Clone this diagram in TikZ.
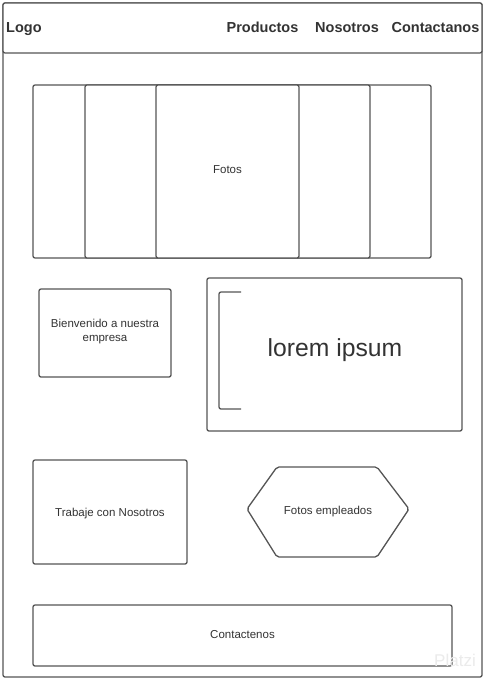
\documentclass[tikz,border=0pt]{standalone}
\usepackage{fontspec}
\setmainfont{Liberation Sans}
\definecolor{edge}{HTML}{555555}
\definecolor{ink}{HTML}{333333}
\begin{document}
\begin{tikzpicture}[x=1pt,y=-1pt,
  box/.style={draw=edge,line width=1.3pt,rounded corners=2pt,fill=white,inner sep=0pt,outer sep=0pt,text=ink,align=center},
  small/.style={font=\fontsize{11.5}{14.5}\selectfont},
  head/.style={font=\bfseries\fontsize{14.5}{17}\selectfont,text=ink,inner sep=0pt}]
\useasboundingbox (0,0) rectangle (485,680);
\node[box,minimum width=479,minimum height=674] (frame) at (242.5,340) {};
\node[box,minimum width=479,minimum height=50] (header) at (242.5,28) {};
\node[head,anchor=base west] (logo) at (6,32) {Logo};
\node[head,anchor=base] (prod) at (262.5,32) {Productos};
\node[head,anchor=base] (nos) at (347,32) {Nosotros};
\node[head,anchor=base] (cont) at (435.5,32) {Contactanos};
% photo carousel
\node[box,minimum width=398,minimum height=173] (f1) at (232,171.5) {};
\node[box,minimum width=285,minimum height=173] (f2) at (227.5,171.5) {};
\node[box,small,minimum width=143,minimum height=173] (fotos) at (227.5,171.5) {};
\node[small,text=ink] (fotostxt) at (227.5,170) {Fotos};
% welcome
\node[box,minimum width=132,minimum height=88] (bien) at (105,333) {};
\node[small,text=ink,align=center] (bientxt) at (105,331.5) {Bienvenido a nuestra\\empresa};
% lorem
\node[box,minimum width=255,minimum height=153] (lorem) at (334.5,354.5) {};
\node[font=\fontsize{24.7}{28}\selectfont,text=ink] (loremtxt) at (335,350) {lorem ipsum};
\coordinate (b1) at (241,292);
\coordinate (b2) at (219,292);
\coordinate (b3) at (219,409);
\coordinate (b4) at (241,409);
\draw[edge,line width=1.3pt,rounded corners=2pt] (b1) -- (b2) -- (b3) -- (b4);
% trabaje
\node[box,minimum width=154,minimum height=104] (trab) at (110,512) {};
\node[small,text=ink] (trabtxt) at (110,513.5) {Trabaje con Nosotros};
% hexagon
\coordinate (h1) at (247,509);
\coordinate (h2) at (277,467);
\coordinate (h3) at (377,467);
\coordinate (h4) at (409,509);
\coordinate (h5) at (377,557);
\coordinate (h6) at (277,557);
\draw[edge,line width=1.3pt,rounded corners=2pt,fill=white] (h1) -- (h2) -- (h3) -- (h4) -- (h5) -- (h6) -- cycle;
\node[small,text=ink] (hextxt) at (328,511.5) {Fotos empleados};
% contactenos
\node[box,minimum width=419,minimum height=61] (contac) at (242.5,635.5) {};
\node[small,text=ink] (contactxt) at (242.5,635) {Contactenos};
% watermark
\node[font=\fontsize{17}{20}\selectfont,text=black!8] (wm) at (455,660) {Platzi};
\end{tikzpicture}
\end{document}
